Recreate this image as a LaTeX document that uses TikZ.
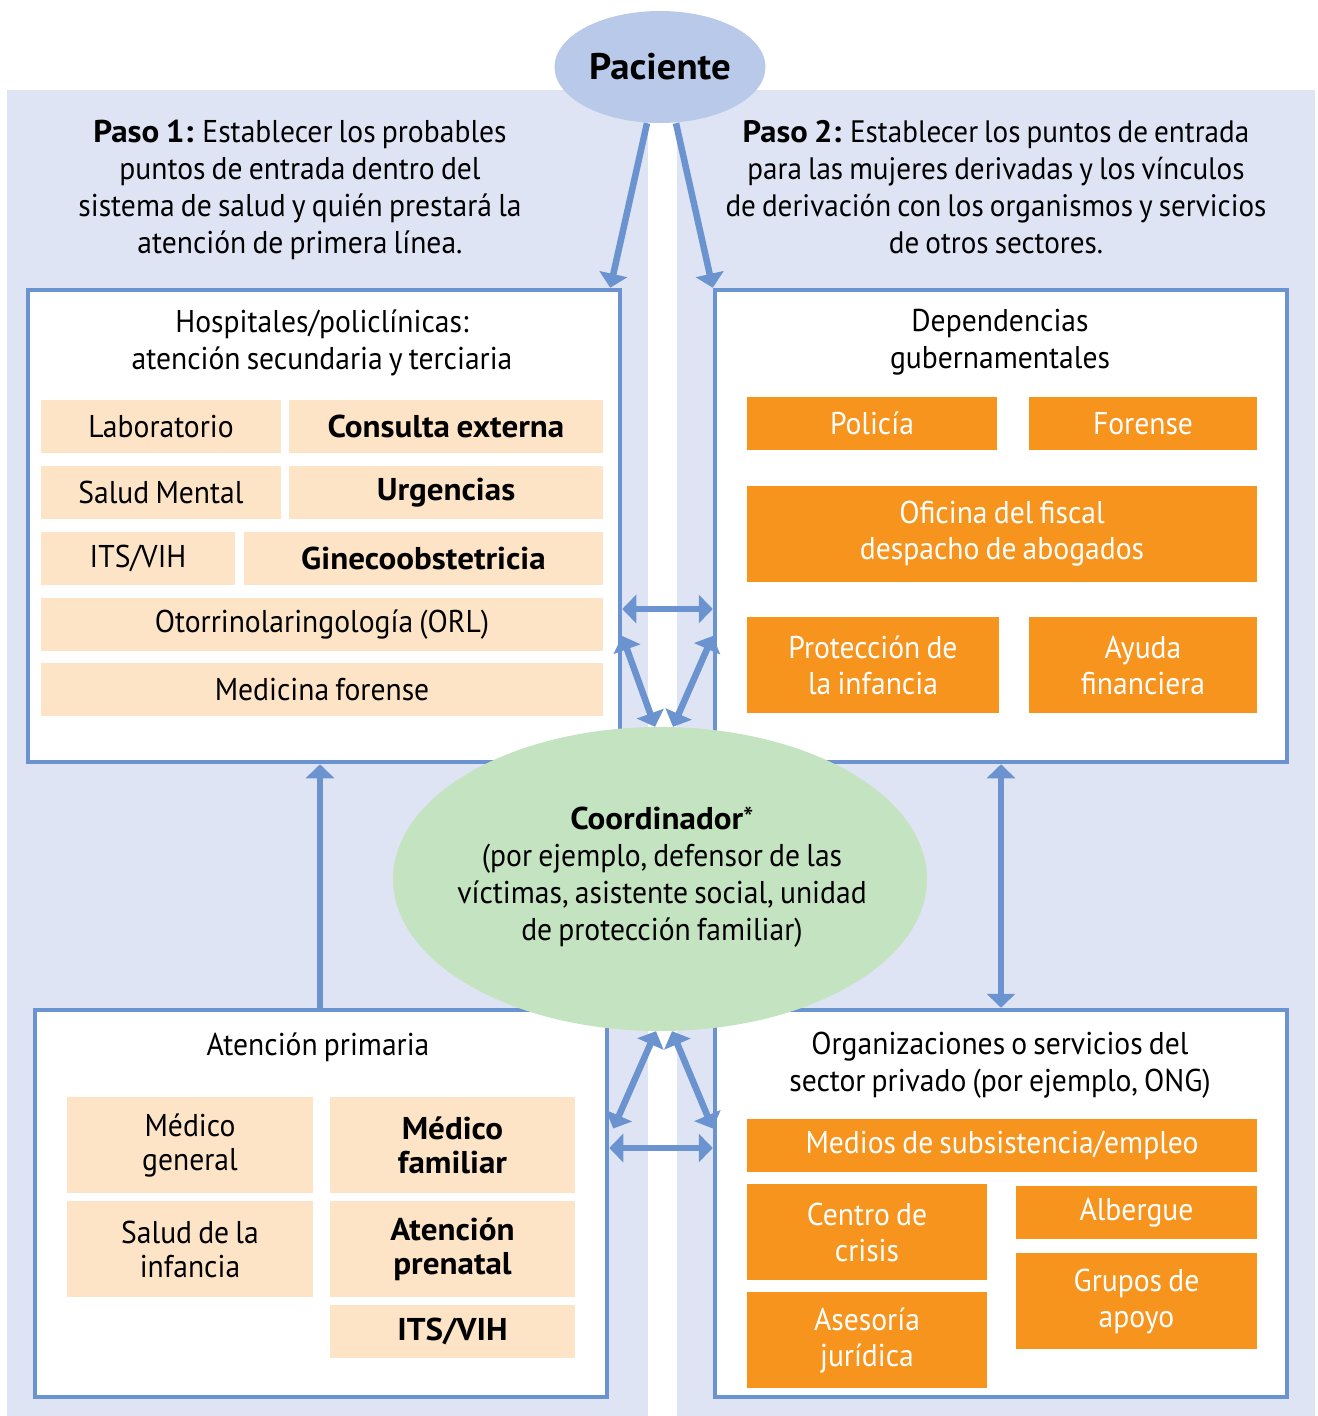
\documentclass[tikz,border=0pt]{standalone}
\usepackage{fontspec}
\setmainfont[FakeStretch=0.94,WordSpace=0.78,BoldFeatures={FakeStretch=1.05}]{PT Sans}
\usetikzlibrary{arrows.meta,shapes.geometric}
\definecolor{panel}{RGB}{223,228,245}
\definecolor{edge}{RGB}{107,147,207}
\definecolor{pacfill}{RGB}{184,201,233}
\definecolor{coordfill}{RGB}{196,227,192}
\definecolor{peach}{RGB}{253,228,198}
\definecolor{orng}{RGB}{247,148,30}
\begin{document}
\begin{tikzpicture}[x=1pt,y=-1pt,
  font=\fontsize{31.5}{37}\selectfont,
  bigbox/.style={draw=edge,line width=4.5pt,fill=white,rectangle,inner sep=0pt},
  pbox/.style={fill=peach,inner sep=0pt,align=center,font=\fontsize{31.5}{34}\selectfont},
  obox/.style={fill=orng,text=white,inner sep=0pt,align=center,font=\fontsize{31.5}{36}\selectfont},
  lbl/.style={inner sep=0pt,align=center},
  tipA/.tip={Triangle[length=14pt,width=28pt]},
  conn/.style={draw=edge,line width=6.5pt,-tipA},
  bconn/.style={draw=edge,line width=6.5pt,tipA-tipA},
]
\useasboundingbox (0,0) rectangle (1317,1416);
\fill[white] (0,0) rectangle (1317,1416);
% panels
\fill[panel] (7,90) rectangle (648,1416);
\fill[panel] (677,90) rectangle (1315,1416);

% step texts
\node[lbl] (paso1) at (300,190) {\textbf{Paso 1:} Establecer los probables\\puntos de entrada dentro del\\sistema de salud y quién prestará la\\atención de primera línea.};
\node[lbl,font=\fontsize{31}{37}\selectfont] (paso2) at (996,187) {\textbf{Paso 2:} Establecer los puntos de entrada\\para las mujeres derivadas y los vínculos\\de derivación con los organismos y servicios\\de otros sectores.};

% big boxes
\node[bigbox,minimum width=592pt,minimum height=472pt] (hosp) at (324,526) {};
\node[bigbox,minimum width=572pt,minimum height=472pt] (dep) at (1001,526) {};
\node[bigbox,minimum width=572pt,minimum height=387pt] (prim) at (321,1203.5) {};
\node[bigbox,minimum width=572pt,minimum height=387pt] (org) at (1001,1203.5) {};

% titles
\node[lbl] (hosptitle) at (322,342.5) {Hospitales/policlínicas:\\atención secundaria y terciaria};
\node[lbl] (deptitle) at (1000,342.5) {Dependencias\\gubernamentales};
\node[lbl] (primtitle) at (318,1047) {Atención primaria};
\node[lbl] (orgtitle) at (1000,1065.5) {Organizaciones o servicios del\\sector privado (por ejemplo, ONG)};

% hospital items
\node[pbox,minimum width=240pt,minimum height=53pt] (lab) at (161,426.5) {Laboratorio};
\node[pbox,minimum width=314pt,minimum height=53pt] (cons) at (446,426.5) {\textbf{Consulta externa}};
\node[pbox,minimum width=240pt,minimum height=53pt] (smental) at (161,492.5) {Salud Mental};
\node[pbox,minimum width=314pt,minimum height=53pt] (urg) at (446,492.5) {\textbf{Urgencias}};
\node[pbox,minimum width=194pt,minimum height=53pt] (its1) at (138,558.5) {ITS/VIH};
\node[pbox,minimum width=359pt,minimum height=53pt] (gine) at (423.5,558.5) {\textbf{Ginecoobstetricia}};
\node[pbox,minimum width=562pt,minimum height=53pt] (orl) at (322,624.5) {Otorrinolaringología (ORL)};
\node[pbox,minimum width=562pt,minimum height=53pt] (medfor) at (322,689.5) {Medicina forense};

% government items
\node[obox,minimum width=250pt,minimum height=53pt] (pol) at (872,423.5) {Policía};
\node[obox,minimum width=228pt,minimum height=53pt] (foren) at (1143,423.5) {Forense};
\node[obox,minimum width=510pt,minimum height=96pt] (ofi) at (1002,534) {Oficina del fiscal\\despacho de abogados};
\node[obox,minimum width=252pt,minimum height=96pt] (prot) at (873,665) {Protección de\\la infancia};
\node[obox,minimum width=228pt,minimum height=96pt] (ayuda) at (1143,665) {Ayuda\\financiera};

% primary items
\node[pbox,minimum width=246pt,minimum height=96pt] (mgen) at (190,1145) {Médico\\general};
\node[pbox,minimum width=245pt,minimum height=96pt] (mfam) at (452.5,1145) {\textbf{Médico}\\\textbf{familiar}};
\node[pbox,minimum width=246pt,minimum height=96pt] (sinf) at (190,1249) {Salud de la\\infancia};
\node[pbox,minimum width=245pt,minimum height=96pt] (prenat) at (452.5,1249) {\textbf{Atención}\\\textbf{prenatal}};
\node[pbox,minimum width=245pt,minimum height=53pt] (its2) at (452.5,1331.5) {\textbf{ITS/VIH}};

% private items
\node[obox,minimum width=510pt,minimum height=53pt] (medios) at (1002,1145.5) {Medios de subsistencia/empleo};
\node[obox,minimum width=240pt,minimum height=96pt] (crisis) at (867,1232) {Centro de\\crisis};
\node[obox,minimum width=241pt,minimum height=53pt] (alb) at (1136.5,1212.5) {Albergue};
\node[obox,minimum width=240pt,minimum height=96pt] (ases) at (867,1340) {Asesoría\\jurídica};
\node[obox,minimum width=241pt,minimum height=96pt] (grupos) at (1136.5,1301) {Grupos de\\apoyo};

% Paciente
\node[ellipse,fill=pacfill,minimum width=211pt,minimum height=112pt,inner sep=0pt,
      font=\fontsize{37}{40}\selectfont\bfseries] (pac) at (660,67) {Paciente};

% coordinator ellipse
\node[ellipse,fill=coordfill,minimum width=534pt,minimum height=304pt,inner sep=0pt] (coord) at (660,879) {};
\node[lbl] (coordtext) at (662,877.5) {\textbf{Coordinador}*\\(por ejemplo, defensor de las\\víctimas, asistente social, unidad\\de protección familiar)};

% connectors
\draw[conn] ([xshift=-13pt]pac.south) -- ([xshift=-12pt]hosp.north east);
\draw[conn] ([xshift=16pt]pac.south) -- (dep.north west);
\draw[bconn] ([yshift=-83pt]hosp.east) -- ([yshift=-83pt]dep.west);
\draw[bconn] ([yshift=-110pt]hosp.east) -- ([xshift=-5pt]coord.north);
\draw[bconn] ([yshift=-110pt]dep.west) -- ([xshift=13pt]coord.north);
\draw[conn] ([xshift=-1pt]prim.north) -- ([xshift=-4pt]hosp.south);
\draw[bconn] (dep.south) -- (org.north);
\draw[bconn] ([xshift=4pt,yshift=75pt]prim.east) -- ([xshift=-4pt]coord.south);
\draw[bconn] ([yshift=75pt]org.west) -- ([xshift=12pt]coord.south);
\draw[bconn] ([yshift=55.5pt]prim.east) -- ([yshift=55.5pt]org.west);
\end{tikzpicture}
\end{document}
